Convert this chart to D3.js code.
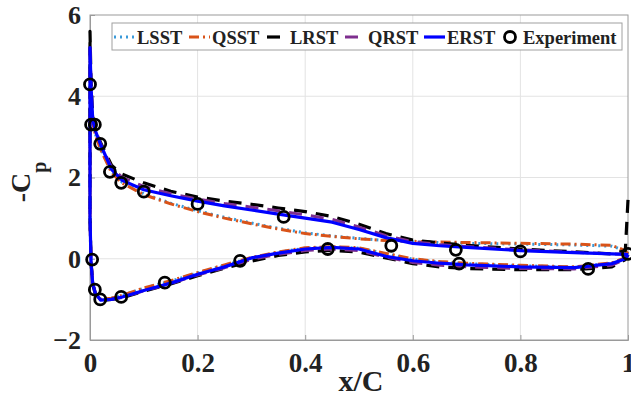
<!DOCTYPE html>
<html>
<head>
<meta charset="utf-8">
<script src="https://cdn.jsdelivr.net/npm/d3@7"></script>
<style>
	body { margin: 0; background: #fff; }
	text { font-family: "Liberation Serif", "Times New Roman", serif; font-weight: bold; }
</style>
</head>
<body>
<div id="wrapper"></div>
<script>

// 1. Data (x/C stations shared by all model curves)

const xStations = [0, 0.002, 0.005, 0.01, 0.02, 0.04, 0.06, 0.1, 0.15, 0.2, 0.25, 0.3, 0.35, 0.4, 0.45, 0.5, 0.55, 0.6, 0.65, 0.7, 0.8, 0.9, 0.97, 0.995, 1.0];

const lsstUpper = [5.2, 4.1, 3.35, 3.07, 2.7, 2.15, 1.88, 1.6, 1.37, 1.18, 1.02, 0.88, 0.75, 0.64, 0.56, 0.5, 0.45, 0.42, 0.4, 0.38, 0.36, 0.34, 0.31, 0.2, 0.12];
const lsstLower = [1.0, -0.1, -0.58, -0.84, -1.0, -0.97, -0.9, -0.73, -0.55, -0.35, -0.16, 0.02, 0.16, 0.26, 0.29, 0.26, 0.12, -0.01, -0.08, -0.12, -0.17, -0.21, -0.11, 0.01, 0.12];

const qsstUpper = [5.2, 4.1, 3.35, 3.05, 2.68, 2.12, 1.86, 1.58, 1.35, 1.16, 1.0, 0.86, 0.73, 0.62, 0.55, 0.49, 0.45, 0.43, 0.41, 0.4, 0.38, 0.36, 0.33, 0.2, 0.12];
const qsstLower = [1.0, -0.1, -0.58, -0.84, -1.0, -0.97, -0.9, -0.72, -0.54, -0.34, -0.15, 0.03, 0.17, 0.27, 0.3, 0.27, 0.13, 0.0, -0.07, -0.11, -0.16, -0.2, -0.1, 0.02, 0.12];

const lrstUpper = [5.6, 4.3, 3.5, 3.2, 2.85, 2.3, 2.08, 1.87, 1.66, 1.52, 1.42, 1.34, 1.25, 1.16, 1.04, 0.85, 0.62, 0.46, 0.39, 0.33, 0.24, 0.17, 0.12, 0.2, 1.45];
const lrstLower = [1.0, -0.1, -0.62, -0.88, -1.03, -1.0, -0.96, -0.8, -0.62, -0.42, -0.23, -0.06, 0.08, 0.17, 0.21, 0.16, 0.02, -0.12, -0.2, -0.24, -0.27, -0.27, -0.2, -0.02, 0.1];

const qrstUpper = [5.3, 4.25, 3.48, 3.18, 2.82, 2.25, 2.0, 1.78, 1.6, 1.47, 1.36, 1.27, 1.18, 1.08, 0.97, 0.78, 0.57, 0.42, 0.35, 0.3, 0.22, 0.16, 0.12, 0.11, 0.1];
const qrstLower = [1.0, -0.1, -0.61, -0.86, -1.02, -1.0, -0.95, -0.79, -0.61, -0.4, -0.22, -0.02, 0.11, 0.2, 0.24, 0.2, 0.04, -0.09, -0.16, -0.2, -0.24, -0.25, -0.16, -0.01, 0.1];

const erstUpper = [5.2, 4.2, 3.45, 3.15, 2.8, 2.2, 1.93, 1.7, 1.55, 1.42, 1.3, 1.2, 1.1, 1.0, 0.9, 0.72, 0.52, 0.38, 0.32, 0.28, 0.2, 0.15, 0.12, 0.11, 0.1];
const erstLower = [1.0, -0.1, -0.6, -0.85, -1.02, -1.0, -0.94, -0.78, -0.6, -0.38, -0.2, 0.02, 0.14, 0.24, 0.28, 0.24, 0.06, -0.05, -0.11, -0.15, -0.2, -0.22, -0.12, 0.0, 0.1];

const expX  = [0, 0.002, 0.009, 0.019, 0.037, 0.058, 0.1, 0.2, 0.36, 0.56, 0.68, 0.8, 1.0, 0.004, 0.009, 0.019, 0.058, 0.139, 0.279, 0.442, 0.686, 0.926];
const expCp = [4.29, 3.3, 3.3, 2.83, 2.14, 1.87, 1.65, 1.35, 1.03, 0.32, 0.22, 0.18, 0.12, -0.02, -0.76, -1.0, -0.94, -0.59, -0.05, 0.24, -0.12, -0.25];

const xTicks = [0, 0.2, 0.4, 0.6, 0.8, 1];
const xTickLabels = ["0", "0.2", "0.4", "0.6", "0.8", "1"];
const yTicks = [-2, 0, 2, 4, 6];

// 2. Series styling

const series = [
	{ name: "LSST", upper: lsstUpper, lower: lsstLower, color: "#3a9ad9", width: 3, dash: "2,4" },
	{ name: "QSST", upper: qsstUpper, lower: qsstLower, color: "#d95319", width: 3, dash: "10,4,2,4" },
	{ name: "LRST", upper: lrstUpper, lower: lrstLower, color: "#000000", width: 3.2, dash: "13,9" },
	{ name: "QRST", upper: qrstUpper, lower: qrstLower, color: "#7e2f8e", width: 3, dash: "13,9" },
	{ name: "ERST", upper: erstUpper, lower: erstLower, color: "#0000ff", width: 3.2, dash: null }
];

// 3. Dimensions

let dimensions = {
	width: 631,
	height: 394,
	margin: { top: 15, right: 3, bottom: 54, left: 90 }
};
dimensions.boundedWidth = dimensions.width - dimensions.margin.left - dimensions.margin.right;
dimensions.boundedHeight = dimensions.height - dimensions.margin.top - dimensions.margin.bottom;

const wrapper = d3.select("#wrapper")
	.append("svg")
	.attr("width", dimensions.width)
	.attr("height", dimensions.height);

const bounds = wrapper.append("g")
	.attr("transform", `translate(${dimensions.margin.left}, ${dimensions.margin.top})`);

// 4. Scales

const xScale = d3.scaleLinear().domain([0, 1]).range([0, dimensions.boundedWidth]);
const yScale = d3.scaleLinear().domain([-2, 6]).range([dimensions.boundedHeight, 0]);

// grid
bounds.append("g")
	.selectAll("line")
	.data(xTicks.slice(1, -1))
	.join("line")
	.attr("x1", d => xScale(d)).attr("x2", d => xScale(d))
	.attr("y1", 0).attr("y2", dimensions.boundedHeight)
	.attr("stroke", "#e3e3e3").attr("stroke-width", 1);

bounds.append("g")
	.selectAll("line")
	.data(yTicks.slice(1, -1))
	.join("line")
	.attr("y1", d => yScale(d)).attr("y2", d => yScale(d))
	.attr("x1", 0).attr("x2", dimensions.boundedWidth)
	.attr("stroke", "#e3e3e3").attr("stroke-width", 1);

// axes
const xAxis = bounds.append("g")
	.attr("transform", `translate(0, ${dimensions.boundedHeight})`)
	.call(d3.axisBottom(xScale).tickValues(xTicks).tickSize(-5).tickPadding(13).tickFormat((d, i) => xTickLabels[i]));

const yAxis = bounds.append("g")
	.call(d3.axisLeft(yScale).tickValues(yTicks).tickSize(-5).tickPadding(9).tickFormat(d3.format("d")));

[xAxis, yAxis].forEach(ax => {
	ax.select(".domain").attr("stroke", "#9a9a9a");
	ax.selectAll(".tick line").attr("stroke", "#9a9a9a");
	ax.selectAll(".tick text")
		.attr("fill", "#222")
		.style("font-family", "'Liberation Serif', serif")
		.style("font-weight", "bold");
});
xAxis.selectAll(".tick text").style("font-size", "27px").attr("dy", "0.71em");
yAxis.selectAll(".tick text").style("font-size", "26px");

// box top and right
bounds.append("rect")
	.attr("width", dimensions.boundedWidth)
	.attr("height", dimensions.boundedHeight)
	.attr("fill", "none")
	.attr("stroke", "#9a9a9a");

// 5. Curves

const lineGenerator = d3.line()
	.x(d => xScale(d[0]))
	.y(d => yScale(d[1]));

const loopPoints = s => {
	const up = xStations.map((x, i) => [x, s.upper[i]]).reverse();
	const low = xStations.map((x, i) => [x, s.lower[i]]);
	return up.concat(low);
};

bounds.append("g")
	.selectAll("path")
	.data(series)
	.join("path")
	.attr("d", d => lineGenerator(loopPoints(d)))
	.attr("fill", "none")
	.attr("stroke", d => d.color)
	.attr("stroke-width", d => d.width)
	.attr("stroke-dasharray", d => d.dash)
	.attr("stroke-linejoin", "round");

bounds.append("g")
	.selectAll("circle")
	.data(expX.map((x, i) => [x, expCp[i]]))
	.join("circle")
	.attr("cx", d => xScale(d[0]))
	.attr("cy", d => yScale(d[1]))
	.attr("r", 5.5)
	.attr("fill", "none")
	.attr("stroke", "#000")
	.attr("stroke-width", 2.8);

// 6. Labels

wrapper.append("text")
	.attr("x", 361)
	.attr("y", 391)
	.attr("text-anchor", "middle")
	.style("font-size", "30px")
	.attr("fill", "#222")
	.text("x/C");

const yLabel = wrapper.append("text")
	.attr("transform", "translate(30, 182) rotate(-90)")
	.attr("text-anchor", "middle")
	.attr("fill", "#222")
	.style("font-size", "28px");
yLabel.append("tspan").text("-C");
yLabel.append("tspan").attr("dy", 16).style("font-size", "20px").text("p");

// 7. Legend

const legendGroup = wrapper.append("g");
legendGroup.append("rect")
	.attr("x", 112).attr("y", 23)
	.attr("width", 510).attr("height", 27)
	.attr("fill", "#fff")
	.attr("stroke", "#a0a0a0")
	.attr("stroke-width", 1);

const legendTextX = [137, 212, 290, 368, 447];
const legendY = 37;

series.forEach((s, i) => {
	const tx = legendTextX[i];
	legendGroup.append("line")
		.attr("x1", tx - 23).attr("x2", tx - 2)
		.attr("y1", legendY).attr("y2", legendY)
		.attr("stroke", s.color)
		.attr("stroke-width", s.width)
		.attr("stroke-dasharray", s.dash);
	legendGroup.append("text")
		.attr("x", tx).attr("y", legendY + 7)
		.style("font-size", "18.5px")
		.attr("fill", "#222")
		.text(s.name);
});

legendGroup.append("circle")
	.attr("cx", 510).attr("cy", legendY)
	.attr("r", 5.5)
	.attr("fill", "none")
	.attr("stroke", "#000")
	.attr("stroke-width", 2.8);
legendGroup.append("text")
	.attr("x", 523).attr("y", legendY + 7)
	.style("font-size", "18.5px")
	.attr("fill", "#222")
	.text("Experiment");

</script>
</body>
</html>
